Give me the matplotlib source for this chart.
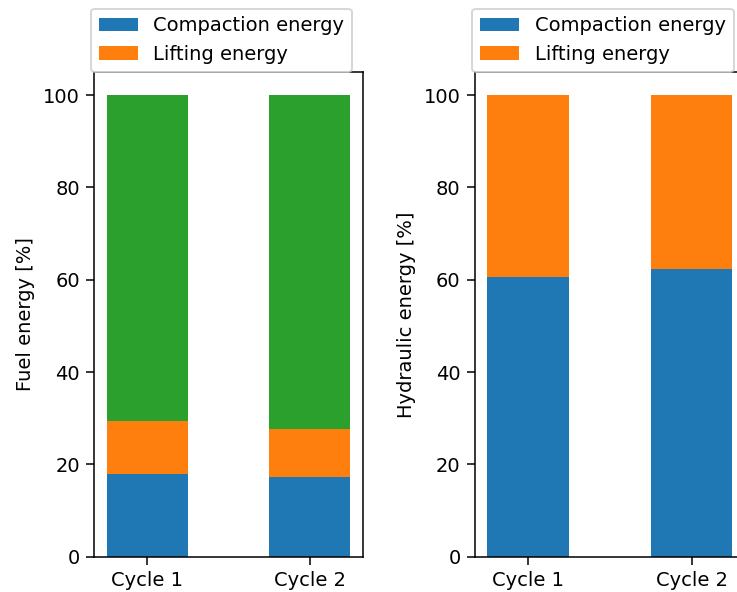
import matplotlib
matplotlib.use("Agg")
import matplotlib.pyplot as plt

cycles = ["Cycle 1", "Cycle 2"]
fuel_compaction = [17.85, 17.2]
fuel_lifting = [11.6, 10.45]
fuel_other = [70.55, 72.35]
hyd_compaction = [60.5, 62.3]
hyd_lifting = [39.5, 37.7]

plt.rcParams["font.size"] = 10.2
plt.rcParams["xtick.major.size"] = 4.0
plt.rcParams["ytick.major.size"] = 4.0

DPI = 138
fig = plt.figure(figsize=(737 / DPI, 592 / DPI), dpi=DPI)
ax1 = fig.add_axes([0.1280, 0.0596, 0.3641, 0.8189])
ax2 = fig.add_axes([0.6445, 0.0596, 0.3660, 0.8189])

x = list(range(len(cycles)))
w = 0.5
blue, orange, green = "#1f77b4", "#ff7f0e", "#2ca02c"

ax1.bar(x, fuel_compaction, w, color=blue, label="Compaction energy")
b1 = [a for a in fuel_compaction]
ax1.bar(x, fuel_lifting, w, bottom=b1, color=orange, label="Lifting energy")
b2 = [a + b for a, b in zip(fuel_compaction, fuel_lifting)]
ax1.bar(x, fuel_other, w, bottom=b2, color=green)
ax1.set_ylabel("Fuel energy [%]")
ax1.set_xticks(x)
ax1.set_xticklabels(cycles)
ax1.legend(loc="lower left", bbox_to_anchor=(-0.013, 1.0), borderaxespad=0)

ax2.bar(x, hyd_compaction, w, color=blue, label="Compaction energy")
ax2.bar(x, hyd_lifting, w, bottom=hyd_compaction, color=orange, label="Lifting energy")
ax2.set_ylabel("Hydraulic energy [%]")
ax2.set_xticks(x)
ax2.set_xticklabels(cycles)
ax2.legend(loc="lower left", bbox_to_anchor=(-0.01, 1.0), borderaxespad=0)

for ax in (ax1, ax2):
    ax.set_ylim(0, 105)
    ax.set_yticks([0, 20, 40, 60, 80, 100])

fig.savefig("out.png", dpi=DPI)
